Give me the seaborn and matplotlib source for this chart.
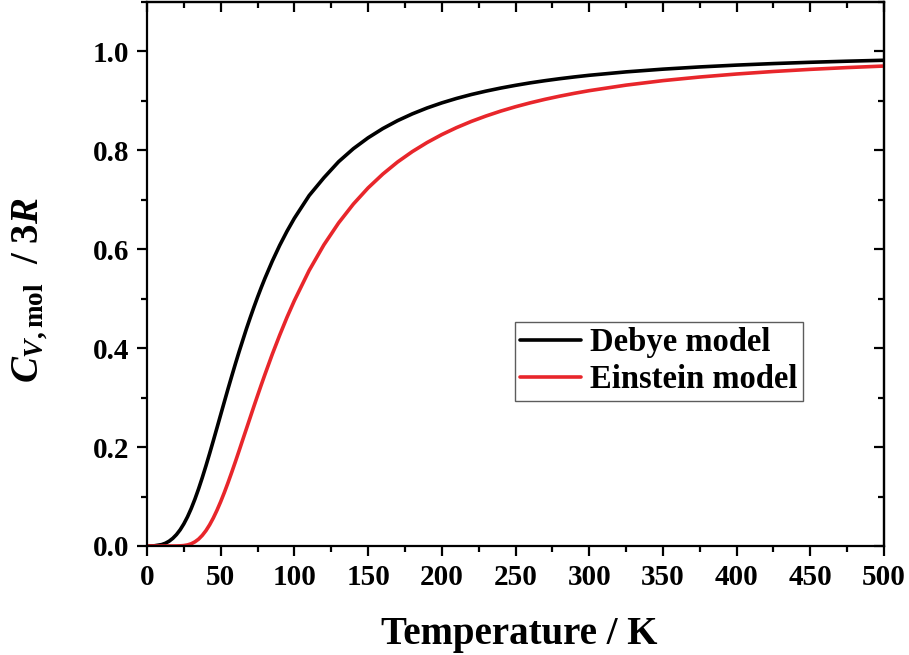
import matplotlib
matplotlib.use("Agg")
import matplotlib.pyplot as plt
from matplotlib.ticker import MultipleLocator, FormatStrFormatter
import pandas as pd
import seaborn as sns

# Molar heat capacity (in units of 3R) of a solid, Debye vs Einstein model
temperature = [0, 5, 10, 12.5, 15, 17.5, 20, 22.5, 25, 27.5, 30, 32.5, 35, 37.5,
               40, 42.5, 45, 47.5, 50, 52.5, 55, 57.5, 60, 62.5, 65, 67.5, 70,
               72.5, 75, 77.5, 80, 85, 90, 95, 100, 110, 120, 130, 140, 150,
               160, 170, 180, 190, 200, 210, 220, 230, 240, 250, 260, 270, 280,
               290, 300, 325, 350, 375, 400, 425, 450, 475, 500]
debye = [0.0, 0.0004, 0.0029, 0.0056, 0.0097, 0.0155, 0.0231, 0.0328, 0.0448,
         0.0591, 0.0758, 0.0947, 0.1156, 0.1382, 0.1622, 0.1872, 0.2130, 0.2392,
         0.2656, 0.2919, 0.3181, 0.3436, 0.3687, 0.3931, 0.4164, 0.4396, 0.4615,
         0.4827, 0.5031, 0.5226, 0.5412, 0.5760, 0.6078, 0.6366, 0.6628, 0.7086,
         0.7446, 0.7771, 0.8034, 0.8254, 0.8441, 0.8601, 0.8738, 0.8857, 0.8960,
         0.9050, 0.9129, 0.9198, 0.9260, 0.9315, 0.9365, 0.9409, 0.9449, 0.9485,
         0.9518, 0.9587, 0.9642, 0.9687, 0.9724, 0.9755, 0.9781, 0.9803, 0.9822]
einstein = [0.0, 0.0, 0.0, 0.0, 0.0, 0.0, 0.0001, 0.0003, 0.0009, 0.0022, 0.0045,
            0.0084, 0.0139, 0.0215, 0.0311, 0.0429, 0.0567, 0.0724, 0.0897,
            0.1084, 0.1283, 0.1492, 0.1707, 0.1928, 0.2153, 0.2375, 0.2598,
            0.2822, 0.3041, 0.3257, 0.3468, 0.3878, 0.4262, 0.4626, 0.4963,
            0.5571, 0.6089, 0.6533, 0.6914, 0.7241, 0.7521, 0.7765, 0.7975,
            0.8158, 0.8319, 0.8460, 0.8585, 0.8695, 0.8794, 0.8882, 0.8961,
            0.9032, 0.9096, 0.9154, 0.9207, 0.9319, 0.9410, 0.9483, 0.9544,
            0.9595, 0.9638, 0.9674, 0.9705]
series_names = ["Debye model", "Einstein model"]
series_colors = ["#000000", "#e8262b"]

df = pd.concat([
    pd.DataFrame({"T": temperature, "C": debye, "model": series_names[0]}),
    pd.DataFrame({"T": temperature, "C": einstein, "model": series_names[1]}),
], ignore_index=True)

sns.set_theme(style="ticks")
plt.rcParams["font.family"] = ["Liberation Serif", "DejaVu Serif"]
plt.rcParams["font.weight"] = "bold"
plt.rcParams["text.color"] = "black"
plt.rcParams["axes.labelcolor"] = "black"
plt.rcParams["xtick.color"] = "black"
plt.rcParams["ytick.color"] = "black"
plt.rcParams["mathtext.fontset"] = "custom"
plt.rcParams["mathtext.rm"] = "Liberation Serif:bold"
plt.rcParams["mathtext.bf"] = "Liberation Serif:bold"
plt.rcParams["mathtext.it"] = "Liberation Serif:italic:bold"

fig = plt.figure(figsize=(9.09, 6.55), dpi=100)
ax = fig.add_axes([147 / 909, 1 - 546 / 655, 737 / 909, 544 / 655])

sns.lineplot(data=df, x="T", y="C", hue="model", palette=series_colors,
             linewidth=2.6, ax=ax, legend=True, sort=False)
for line in ax.get_lines():
    line.set_solid_joinstyle("round")

ax.set_xlim(0, 500)
ax.set_ylim(0, 1.1)
ax.xaxis.set_major_locator(MultipleLocator(50))
ax.xaxis.set_minor_locator(MultipleLocator(25))
ax.yaxis.set_major_locator(MultipleLocator(0.2))
ax.yaxis.set_minor_locator(MultipleLocator(0.1))
ax.yaxis.set_major_formatter(FormatStrFormatter("%.1f"))

for s in ax.spines.values():
    s.set_linewidth(1.6)
    s.set_color("black")

ax.tick_params(which="both", direction="out", width=1.6, colors="black",
               labelsize=21, top=False, right=False)
ax.tick_params(which="major", length=7, pad=6)
ax.tick_params(which="minor", length=4)
for lab in ax.get_xticklabels() + ax.get_yticklabels():
    lab.set_fontweight("bold")

# inward ticks on the opposite sides
top = ax.secondary_xaxis("top")
top.xaxis.set_major_locator(MultipleLocator(50))
top.xaxis.set_minor_locator(MultipleLocator(25))
top.tick_params(which="both", direction="in", width=1.6, labeltop=False)
top.tick_params(which="major", length=7)
top.tick_params(which="minor", length=4)
top.spines["top"].set_linewidth(1.6)
right = ax.secondary_yaxis("right")
right.yaxis.set_major_locator(MultipleLocator(0.2))
right.yaxis.set_minor_locator(MultipleLocator(0.1))
right.tick_params(which="both", direction="in", width=1.6, labelright=False)
right.tick_params(which="major", length=7)
right.tick_params(which="minor", length=4)
right.spines["right"].set_linewidth(1.6)

ax.set_xlabel("Temperature / K", fontsize=28, fontweight="bold")
ax.set_ylabel(r"$C_{V\mathrm{,mol}}$  / 3$R$", fontsize=28, fontweight="bold")
ax.xaxis.set_label_coords(0.505, -0.128)
ax.yaxis.set_label_coords(-0.132, 0.47)

handles, labels = ax.get_legend_handles_labels()
leg = ax.legend(handles, labels, loc="upper left", bbox_to_anchor=(0.499, 0.412),
                borderaxespad=0, frameon=True, fancybox=False, shadow=False,
                prop={"family": "Liberation Serif", "weight": "bold", "size": 23.5},
                handlelength=1.85, handletextpad=0.3, borderpad=0.17,
                labelspacing=0.17)
leg.get_frame().set_edgecolor("#333333")
leg.get_frame().set_linewidth(1.0)
for text in leg.get_texts():
    text.set_color("black")
for line in leg.get_lines():
    line.set_linewidth(2.6)

fig.savefig("out.png", dpi=100, facecolor="white")
